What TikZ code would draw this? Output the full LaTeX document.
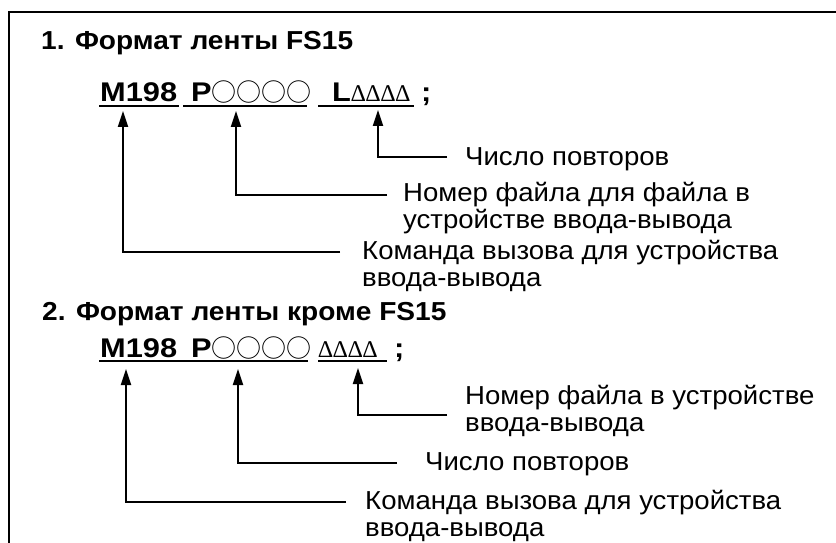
\documentclass[tikz,border=0pt]{standalone}
\usepackage{fontspec}
\setmainfont{Liberation Sans}[FakeStretch=1.06]
\newfontfamily\ttlfont{Liberation Sans}[FakeStretch=1.08]
\newfontfamily\codefont{Liberation Sans}[FakeStretch=1.14]
\newfontfamily\cjk{Noto Sans CJK JP}
\newfontfamily\grk{Liberation Serif}
\usetikzlibrary{arrows.meta}
\tikzset{
  lbl/.style={inner sep=0pt, anchor=base west, font=\fontsize{26bp}{27bp}\selectfont},
  ttl/.style={inner sep=0pt, anchor=base west, font=\ttlfont\fontsize{26bp}{27bp}\selectfont\bfseries},
  code/.style={inner sep=0pt, anchor=base west, font=\codefont\fontsize{27bp}{27bp}\selectfont\bfseries},
  ul/.style={line width=2.2bp},
  arr/.style={line width=2bp, -{Triangle[length=16bp,width=10bp]}},
  frm/.style={line width=2bp},
}
\newcommand{\circs}{{\mdseries\cjk\fontsize{25bp}{25bp}\selectfont ○○○○}}
\newcommand{\dl}{\makebox[14.8bp]{\mdseries\grk\fontsize{24bp}{24bp}\selectfont Δ}}
\newcommand{\twolines}[2]{\vtop{\baselineskip=27bp\hbox{#1}\hbox{#2}}}
\begin{document}
\begin{tikzpicture}[x=1bp,y=-1bp]
\useasboundingbox (0,0) rectangle (836,543);
\draw[frm] (9,543) -- (9,12) -- (836,12);

% ---------- section 1 ----------
\node[ttl] (t1) at (41,50) {1. Формат ленты FS15};
\node[code] (m1) at (100,102) {M198};
\node[code] (p1) at (191,102) {P\circs};
\node[code] (l1) at (332,102) {L\dl\dl\dl\dl};
\node[code] (s1) at (421,102) {;};
\draw[ul] (99,106) -- (179,106);
\draw[ul] (183,106) -- (307,106);
\draw[ul] (318,106) -- (414,106);

\node[lbl] (n1a) at (465,166) {Число повторов};
\node[lbl] (n1b) at (403,202) {\twolines{Номер файла для файла в}{устройстве ввода-вывода}};
\node[lbl] (n1c) at (362,260) {\twolines{Команда вызова для устройства}{ввода-вывода}};

\coordinate (k1a) at (447,157); \coordinate (h1a) at (378,110);
\coordinate (k1b) at (387,195); \coordinate (h1b) at (236,111);
\coordinate (k1c) at (340,252); \coordinate (h1c) at (123,111);
\draw[arr] (k1a) -| (h1a);
\draw[arr] (k1b) -| (h1b);
\draw[arr] (k1c) -| (h1c);

% ---------- section 2 ----------
\node[ttl] (t2) at (42,321) {2. Формат ленты кроме FS15};
\node[code] (m2) at (100,357) {M198};
\node[code] (p2) at (191,357) {P\circs};
\node[code] (d2) at (318,357) {\dl\dl\dl\dl};
\node[code] (s2) at (394,357) {;};
\draw[ul] (99,361) -- (308,361);
\draw[ul] (318,361) -- (387,361);

\node[lbl] (n2a) at (465,404) {\twolines{Номер файла в устройстве}{ввода-вывода}};
\node[lbl] (n2b) at (425,470) {Число повторов};
\node[lbl] (n2c) at (365,509) {\twolines{Команда вызова для устройства}{ввода-вывода}};

\coordinate (k2a) at (447,415); \coordinate (h2a) at (358,368);
\coordinate (k2b) at (397,463); \coordinate (h2b) at (238,369);
\coordinate (k2c) at (346,502); \coordinate (h2c) at (126,369);
\draw[arr] (k2a) -| (h2a);
\draw[arr] (k2b) -| (h2b);
\draw[arr] (k2c) -| (h2c);
\end{tikzpicture}
\end{document}
